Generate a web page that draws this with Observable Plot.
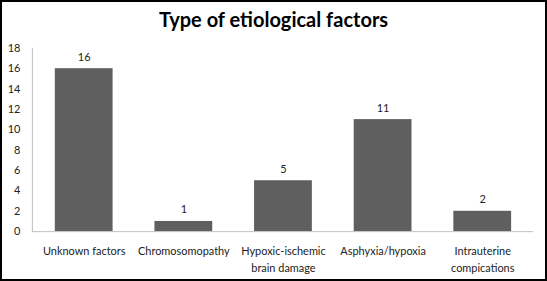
<!DOCTYPE html>
<html>
<head>
<meta charset="utf-8">
<script src="https://cdn.jsdelivr.net/npm/d3@7"></script>
<script src="https://cdn.jsdelivr.net/npm/@observablehq/plot@0.6"></script>
<style>
  html, body { margin: 0; padding: 0; background: #fff; }
  #wrap { position: relative; width: 547px; height: 281px; box-sizing: border-box; border: 2px solid #000; overflow: hidden; }
  #title { position: absolute; left: 0; right: 0; top: 5px; text-align: center; font: bold 20px Lato, "Open Sans", sans-serif; color: #000; }
  #chart { position: absolute; left: -2px; top: -2px; }
</style>
</head>
<body>
<div id="wrap">
  <div id="title">Type of etiological factors</div>
  <div id="chart"></div>
</div>
<script>
const categories = ["Unknown factors", "Chromosomopathy", "Hypoxic-ischemic\nbrain damage", "Asphyxia/hypoxia", "Intrauterine\ncompications"];
const counts = [16, 1, 5, 11, 2];
const yTicks = [0, 2, 4, 6, 8, 10, 12, 14, 16, 18];

const data = categories.map((c, i) => ({category: c, count: counts[i]}));

const chart = Plot.plot({
  width: 547,
  height: 281,
  marginLeft: 32,
  marginRight: 12,
  marginTop: 48,
  marginBottom: 49,
  style: {fontFamily: "Lato, 'Open Sans', sans-serif", fontSize: "11px", color: "#222", background: "transparent"},
  x: {domain: categories, paddingInner: 0.42, paddingOuter: 0.21, label: null},
  y: {domain: [0, 18], label: null},
  marks: [
    Plot.frame({anchor: "left", stroke: "#bfbfbf"}),
    Plot.barY(data, {x: "category", y: "count", fill: "#5f5f5f"}),
    Plot.ruleY([0], {stroke: "#bfbfbf"}),
    Plot.text(data, {x: "category", y: "count", text: d => String(d.count), dy: -8, lineAnchor: "bottom", fill: "#222", fontSize: 11}),
    Plot.axisY({ticks: yTicks, tickSize: 0, tickPadding: 12, label: null, fill: "#222"}),
    Plot.axisX({tickSize: 0, tickPadding: 12, label: null, lineHeight: 1.5, fill: "#222"})
  ]
});
document.getElementById("chart").appendChild(chart);
</script>
</body>
</html>
